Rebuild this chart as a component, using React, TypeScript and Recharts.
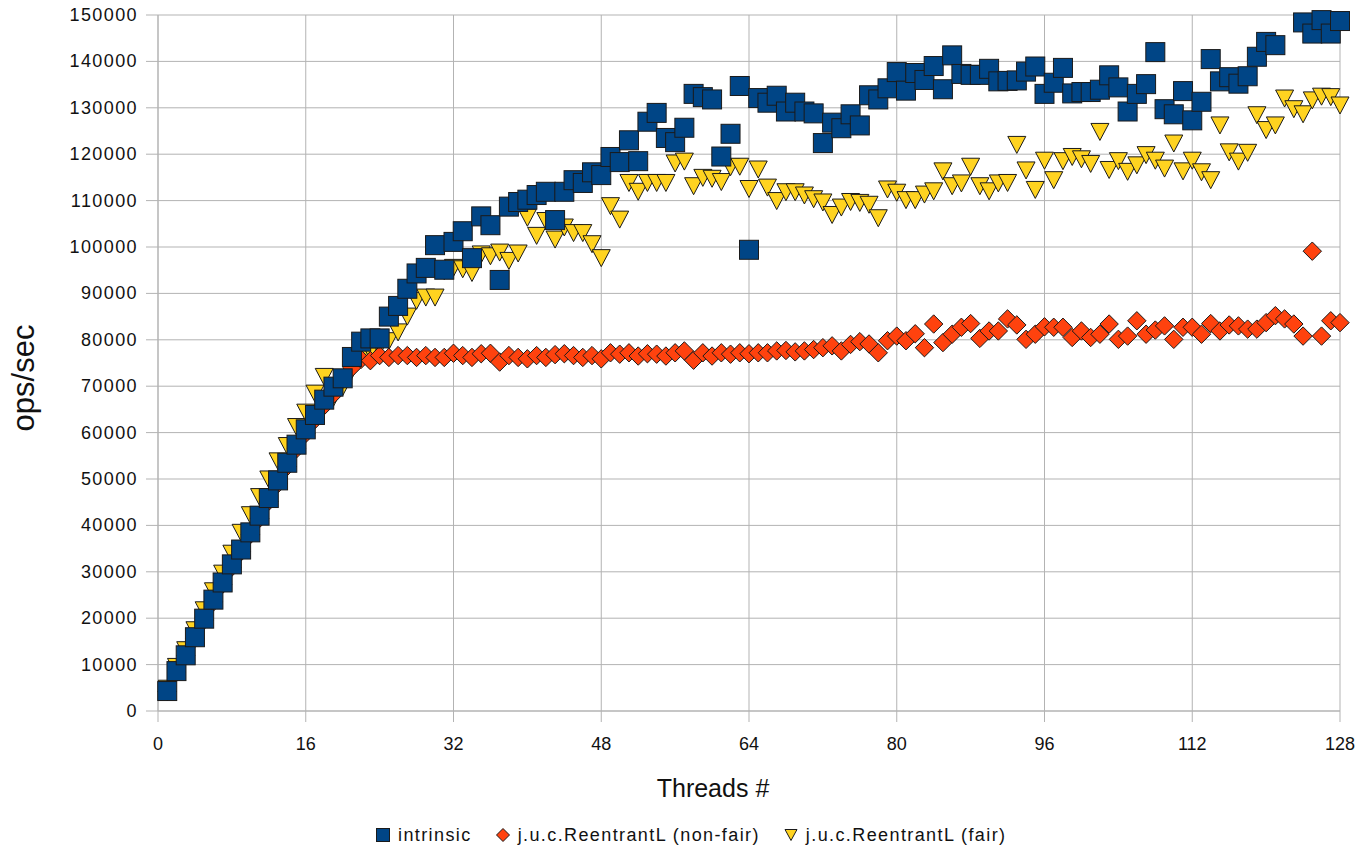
import React from 'react';
import { ScatterChart, Scatter, XAxis, YAxis, CartesianGrid, Legend } from 'recharts';

const THREADS = [
  1, 2, 3, 4, 5, 6, 7, 8, 9, 10, 11, 12, 13, 14, 15, 16, 17, 18, 19, 20,
  21, 22, 23, 24, 25, 26, 27, 28, 29, 30, 31, 32, 33, 34, 35, 36, 37, 38, 39, 40,
  41, 42, 43, 44, 45, 46, 47, 48, 49, 50, 51, 52, 53, 54, 55, 56, 57, 58, 59, 60,
  61, 62, 63, 64, 65, 66, 67, 68, 69, 70, 71, 72, 73, 74, 75, 76, 77, 78, 79, 80,
  81, 82, 83, 84, 85, 86, 87, 88, 89, 90, 91, 92, 93, 94, 95, 96, 97, 98, 99, 100,
  101, 102, 103, 104, 105, 106, 107, 108, 109, 110, 111, 112, 113, 114, 115, 116, 117, 118, 119, 120,
  121, 122, 123, 124, 125, 126, 127, 128,
];

const INTRINSIC: (number | null)[] = [
  4300, 8600, 12000, 15900, 19900, 24000, 27700, 31600, 34800, 38500,
  42100, 45900, 49700, 53500, 57400, 60700, 63800, 67100, 69900, 71700,
  76300, 79600, 80300, 80300, 85000, 87300, 91000, 94300, 95500, 100400,
  95100, 101100, 103400, 97600, 106600, 104700, 92900, 108700, 109700, 110200,
  111200, 111900, 105800, 111900, 114400, 113800, 116100, 115500, 119400, 118300,
  123000, 118500, 127000, 128900, 123500, 122600, 125700, 133000, 132300, 131800,
  119500, 124400, 134700, 99400, 132100, 131100, 132600, 129200, 131100, 129200,
  128800, 122400, 126800, 125600, 128600, 126200, 132700, 131800, 134200, 137700,
  133700, 137500, 136000, 139000, 134000, 141300, 137300, 137100, 137100, 138400,
  135700, 135800, 135900, 137800, 138900, 133000, 135400, 138600, 133100, 133400,
  133400, 133900, 137000, 134400, 129200, 133000, 135100, 142000, 129700, 128600,
  133600, 127300, 131300, 140500, 135700, 136600, 135200, 136800, 141000, 144200,
  143500, null, null, 148400, 146000, 148900, 146000, 148700,
];

const NON_FAIR: (number | null)[] = [
  4200, 8400, 11900, 15700, 19600, 23500, 27300, 31000, 34300, 38000,
  41500, 45200, 49000, 52700, 56500, 59800, 62800, 65800, 68200, 71500,
  74000, 75800, 75500, 76600, 76200, 76600, 76600, 76200, 76600, 76200,
  76200, 77100, 76600, 76200, 77000, 77100, 75200, 76600, 76200, 75900,
  76600, 76200, 76800, 77000, 76600, 76200, 76600, 75900, 77200, 76900,
  77200, 76500, 77000, 76900, 76500, 77200, 77600, 75600, 77200, 76500,
  77200, 76900, 77200, 77000, 77200, 77200, 77600, 77700, 77400, 77600,
  77900, 78300, 78700, 77600, 79000, 79600, 79100, 77200, 79800, 80800,
  79800, 81300, 78300, 83400, 79400, 81200, 82700, 83500, 80300, 81900,
  81900, 84500, 83200, 80100, 81200, 82800, 82700, 82700, 80500, 81900,
  80500, 81200, 83400, 80100, 80800, 84100, 81200, 82100, 83000, 80100,
  82700, 82700, 81200, 83500, 81900, 83200, 83000, 82300, 82300, 83700,
  85200, 84500, 83400, 80800, 99100, 80800, 84100, 83700,
];

const FAIR: (number | null)[] = [
  4800, 9500, 13100, 17400, 21700, 25800, 29600, 33900, 38400, 42200,
  46100, 49900, 53800, 57100, 61200, 64300, 68400, 72000, 67500, 69800,
  73500, 76000, 77500, 78500, 79700, 81600, 85000, 88400, 89100, 89100,
  94800, 95500, 95200, 94400, 98400, 98000, 98800, 97000, 98600, 106300,
  102400, 105600, 101600, 104200, 103000, 103000, 100600, 97600, 108800, 105900,
  113800, 111900, 113800, 113800, 113800, 118000, 118400, 113100, 114900, 114700,
  114000, 117200, 117300, 112500, 116700, 112800, 109900, 111800, 111800, 111100,
  110300, 109600, 106900, 108500, 109700, 109500, 109100, 106200, 112400, 111700,
  110100, 110100, 111300, 112000, 116300, 113100, 113700, 117300, 113100, 112000,
  113700, 113800, 122000, 116500, 112300, 118600, 114400, 118500, 119400, 118900,
  117900, 124800, 116600, 118500, 116200, 117600, 119800, 118600, 116900, 122300,
  116300, 118600, 116100, 114400, 126200, 120400, 118400, 120300, 128400, 125200,
  126200, 132000, 129700, 128600, 131600, 132400, 132300, 130500,
];

const X_TICKS = [0, 16, 32, 48, 64, 80, 96, 112, 128];
const Y_TICKS = [0, 10000, 20000, 30000, 40000, 50000, 60000, 70000, 80000, 90000, 100000, 110000, 120000, 130000, 140000, 150000];

const SERIES_NAMES = ['intrinsic', 'j.u.c.ReentrantL (non-fair)', 'j.u.c.ReentrantL (fair)'];
const X_TITLE = 'Threads #';
const Y_TITLE = 'ops/sec';

const FONT = "'Liberation Sans', Arial, sans-serif";
const GRID = '#b3b3b3';
const BLUE = '#004586';
const RED = '#ff420e';
const YELLOW = '#ffd320';
const EDGE = '#1a1a1a';

const points = (vals: (number | null)[]) =>
  THREADS.map((t, i) => ({ x: t, y: vals[i] })).filter((p) => p.y != null);

const SquareShape = (p: any) => {
  if (p.cx == null || p.cy == null) return null;
  return <rect x={p.cx - 9.5} y={p.cy - 9.5} width={19} height={19} fill={BLUE} stroke={EDGE} strokeWidth={1} />;
};
const DiamondShape = (p: any) => {
  if (p.cx == null || p.cy == null) return null;
  const { cx, cy } = p;
  const r = 9.2;
  return <polygon points={`${cx},${cy - r} ${cx + r},${cy} ${cx},${cy + r} ${cx - r},${cy}`} fill={RED} stroke={EDGE} strokeWidth={1} />;
};
const TriangleShape = (p: any) => {
  if (p.cx == null || p.cy == null) return null;
  const { cx, cy } = p;
  return <polygon points={`${cx - 9},${cy - 8.5} ${cx + 9},${cy - 8.5} ${cx},${cy + 8.5}`} fill={YELLOW} stroke={EDGE} strokeWidth={1} />;
};

const YTick = (p: any) => (
  <text x={p.x} y={p.y} textAnchor="end" dominantBaseline="central" fontFamily={FONT} fontSize={18} fill="#111" style={{ letterSpacing: '1.4px' }}>
    {p.payload.value}
  </text>
);
const XTick = (p: any) => (
  <text x={p.x} y={p.y} dy="0.71em" textAnchor="middle" fontFamily={FONT} fontSize={18} fill="#111">
    {p.payload.value}
  </text>
);

const LegendIcon = ({ kind }: { kind: number }) => {
  if (kind === 0)
    return (
      <svg width={14} height={14}><rect x={0.5} y={0.5} width={13} height={13} fill={BLUE} stroke={EDGE} strokeWidth={1} /></svg>
    );
  if (kind === 1)
    return (
      <svg width={14} height={14}><polygon points="7,0.5 13.5,7 7,13.5 0.5,7" fill={RED} stroke={EDGE} strokeWidth={1} /></svg>
    );
  return (
    <svg width={14} height={14}><polygon points="1,1.5 13,1.5 7,12.5" fill={YELLOW} stroke={EDGE} strokeWidth={1} /></svg>
  );
};

const renderLegend = () => (
  <div style={{ height: 28, display: 'flex', alignItems: 'center', paddingLeft: 376, fontFamily: FONT, fontSize: 18, color: '#111', letterSpacing: '1.4px', transform: 'translateY(4px)' }}>
    {SERIES_NAMES.map((n, i) => (
      <div key={n} style={{ display: 'flex', alignItems: 'center', marginRight: 24 }}>
        <LegendIcon kind={i} />
        <span style={{ marginLeft: 8, whiteSpace: 'nowrap' }}>{n}</span>
      </div>
    ))}
  </div>
);

export default function App() {
  return (
    <div style={{ marginTop: -8, marginLeft: -8, width: 1356, height: 845 }}>
      <ScatterChart width={1356} height={845} margin={{ top: 15, right: 16, left: 8, bottom: 0 }}>
        <CartesianGrid stroke={GRID} strokeWidth={1} />
        <XAxis
          type="number"
          dataKey="x"
          domain={[0, 128]}
          ticks={X_TICKS}
          interval={0}
          height={106}
          tickSize={11}
          tickMargin={15}
          tick={<XTick />}
          axisLine={{ stroke: GRID }}
          tickLine={{ stroke: GRID }}
          label={{
            content: (lp: any) => {
              const vb = lp.viewBox || {};
              return (
                <text x={vb.x + vb.width / 2 - 36} y={vb.y + 86} textAnchor="middle" fontFamily={FONT} fontSize={25} fill="#111">
                  {X_TITLE}
                </text>
              );
            },
          }}
        />
        <YAxis
          type="number"
          dataKey="y"
          domain={[0, 150000]}
          ticks={Y_TICKS}
          interval={0}
          width={150}
          tickSize={12}
          tickMargin={8}
          tick={<YTick />}
          axisLine={{ stroke: GRID }}
          tickLine={{ stroke: GRID }}
          label={{
            content: (lp: any) => {
              const vb = lp.viewBox || {};
              const cy = vb.y + vb.height / 2 + 15;
              return (
                <text x={34} y={cy} transform={`rotate(-90, 34, ${cy})`} textAnchor="middle" fontFamily={FONT} fontSize={31} fill="#111">
                  {Y_TITLE}
                </text>
              );
            },
          }}
        />
        <Legend verticalAlign="bottom" align="left" content={renderLegend} wrapperStyle={{ left: 0, width: 1356 }} />
        <Scatter name={SERIES_NAMES[2]} data={points(FAIR)} shape={TriangleShape} isAnimationActive={false} legendType="triangle" />
        <Scatter name={SERIES_NAMES[1]} data={points(NON_FAIR)} shape={DiamondShape} isAnimationActive={false} legendType="diamond" />
        <Scatter name={SERIES_NAMES[0]} data={points(INTRINSIC)} shape={SquareShape} isAnimationActive={false} legendType="square" />
      </ScatterChart>
    </div>
  );
}
